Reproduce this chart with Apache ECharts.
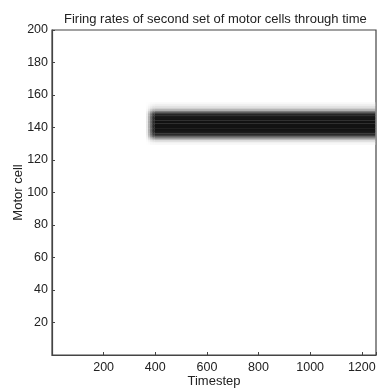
<!DOCTYPE html>
<html>
<head>
<meta charset="utf-8">
<script src="https://cdn.jsdelivr.net/npm/echarts@6/dist/echarts.min.js"></script>
<style>
  html, body { margin: 0; padding: 0; background: #fff; }
  #chart { width: 379px; height: 391px; }
</style>
</head>
<body>
<div id="chart"></div>
<script>
// motor cell indices covered by the active band
const bandCells = [130, 131, 132, 133, 134, 135, 136, 137, 138, 139, 140, 141, 142, 143, 144, 145, 146, 147, 148, 149, 150, 151, 152, 153, 154, 155];
// firing rate (0..1) for each cell above, read across the band
const bandProfile = [0.03, 0.06, 0.15, 0.3, 0.55, 0.78, 0.9, 0.96, 0.98, 1, 1, 1, 1, 1, 1, 0.99, 0.98, 0.96, 0.92, 0.8, 0.55, 0.35, 0.2, 0.12, 0.07, 0.03];
// time segments [start, end] and how strongly the band is on in each
const timeStarts = [364, 372, 380, 388, 396];
const timeEnds = [372, 380, 388, 396, 1252];
const timeGain = [0.1, 0.35, 0.65, 0.9, 1];

const xTicks = [200, 400, 600, 800, 1000, 1200];
const yTicks = [20, 40, 60, 80, 100, 120, 140, 160, 180, 200];

const cells = [];
timeStarts.forEach((t0, i) => {
  bandCells.forEach((c, j) => {
    cells.push([t0, timeEnds[i], c, bandProfile[j] * timeGain[i]]);
  });
});

const font = "Liberation Sans, Arial, sans-serif";
const textColor = "#222";
const lineColor = "#444";

const chart = echarts.init(document.getElementById("chart"));
chart.setOption({
  animation: false,
  title: {
    text: "Firing rates of second set of motor cells through time",
    left: 59,
    top: 8,
    textStyle: { fontFamily: font, fontSize: 13, fontWeight: "normal", color: textColor },
  },
  grid: {
    left: 52, right: 3, top: 30, bottom: 36,
    outerBoundsMode: "none",
    containLabel: false,
    show: true, borderColor: lineColor, borderWidth: 1.2, backgroundColor: "#fff",
  },
  xAxis: {
    type: "value",
    min: 0,
    max: 1255,
    interval: 200,
    name: "Timestep",
    nameLocation: "middle",
    nameGap: 20,
    nameMoveOverlap: false,
    nameTextStyle: { fontFamily: font, fontSize: 13, color: textColor },
    axisLine: { lineStyle: { color: lineColor, width: 1.2 } },
    axisTick: { inside: true, length: 3, lineStyle: { color: lineColor } },
    axisLabel: {
      fontFamily: font, fontSize: 12.5, color: textColor, margin: 6,
      formatter: (v) => (xTicks.includes(v) ? String(v) : ""),
    },
    splitLine: { show: false },
  },
  yAxis: {
    type: "value",
    min: 0,
    max: 200,
    interval: 20,
    name: "Motor cell",
    nameLocation: "middle",
    nameGap: 27,
    nameMoveOverlap: false,
    nameTextStyle: { fontFamily: font, fontSize: 13, color: textColor },
    axisLine: { lineStyle: { color: lineColor, width: 1.2 } },
    axisTick: { inside: true, length: 3, lineStyle: { color: lineColor } },
    axisLabel: {
      fontFamily: font, fontSize: 12.5, color: textColor, margin: 4,
      formatter: (v) => (yTicks.includes(v) ? String(v) : ""),
    },
    splitLine: { show: false },
  },
  series: [
    {
      type: "custom",
      clip: true,
      data: cells,
      encode: { x: [0, 1], y: 2 },
      renderItem: (params, api) => {
        const p0 = api.coord([api.value(0), api.value(2) + 0.5]);
        const p1 = api.coord([api.value(1), api.value(2) - 0.5]);
        const g = Math.round(255 * (1 - 0.93 * api.value(3)));
        return {
          type: "rect",
          shape: { x: p0[0], y: p0[1], width: p1[0] - p0[0], height: p1[1] - p0[1] + 0.4 },
          style: { fill: `rgb(${g},${g},${g})` },
        };
      },
    },
  ],
});
</script>
</body>
</html>
